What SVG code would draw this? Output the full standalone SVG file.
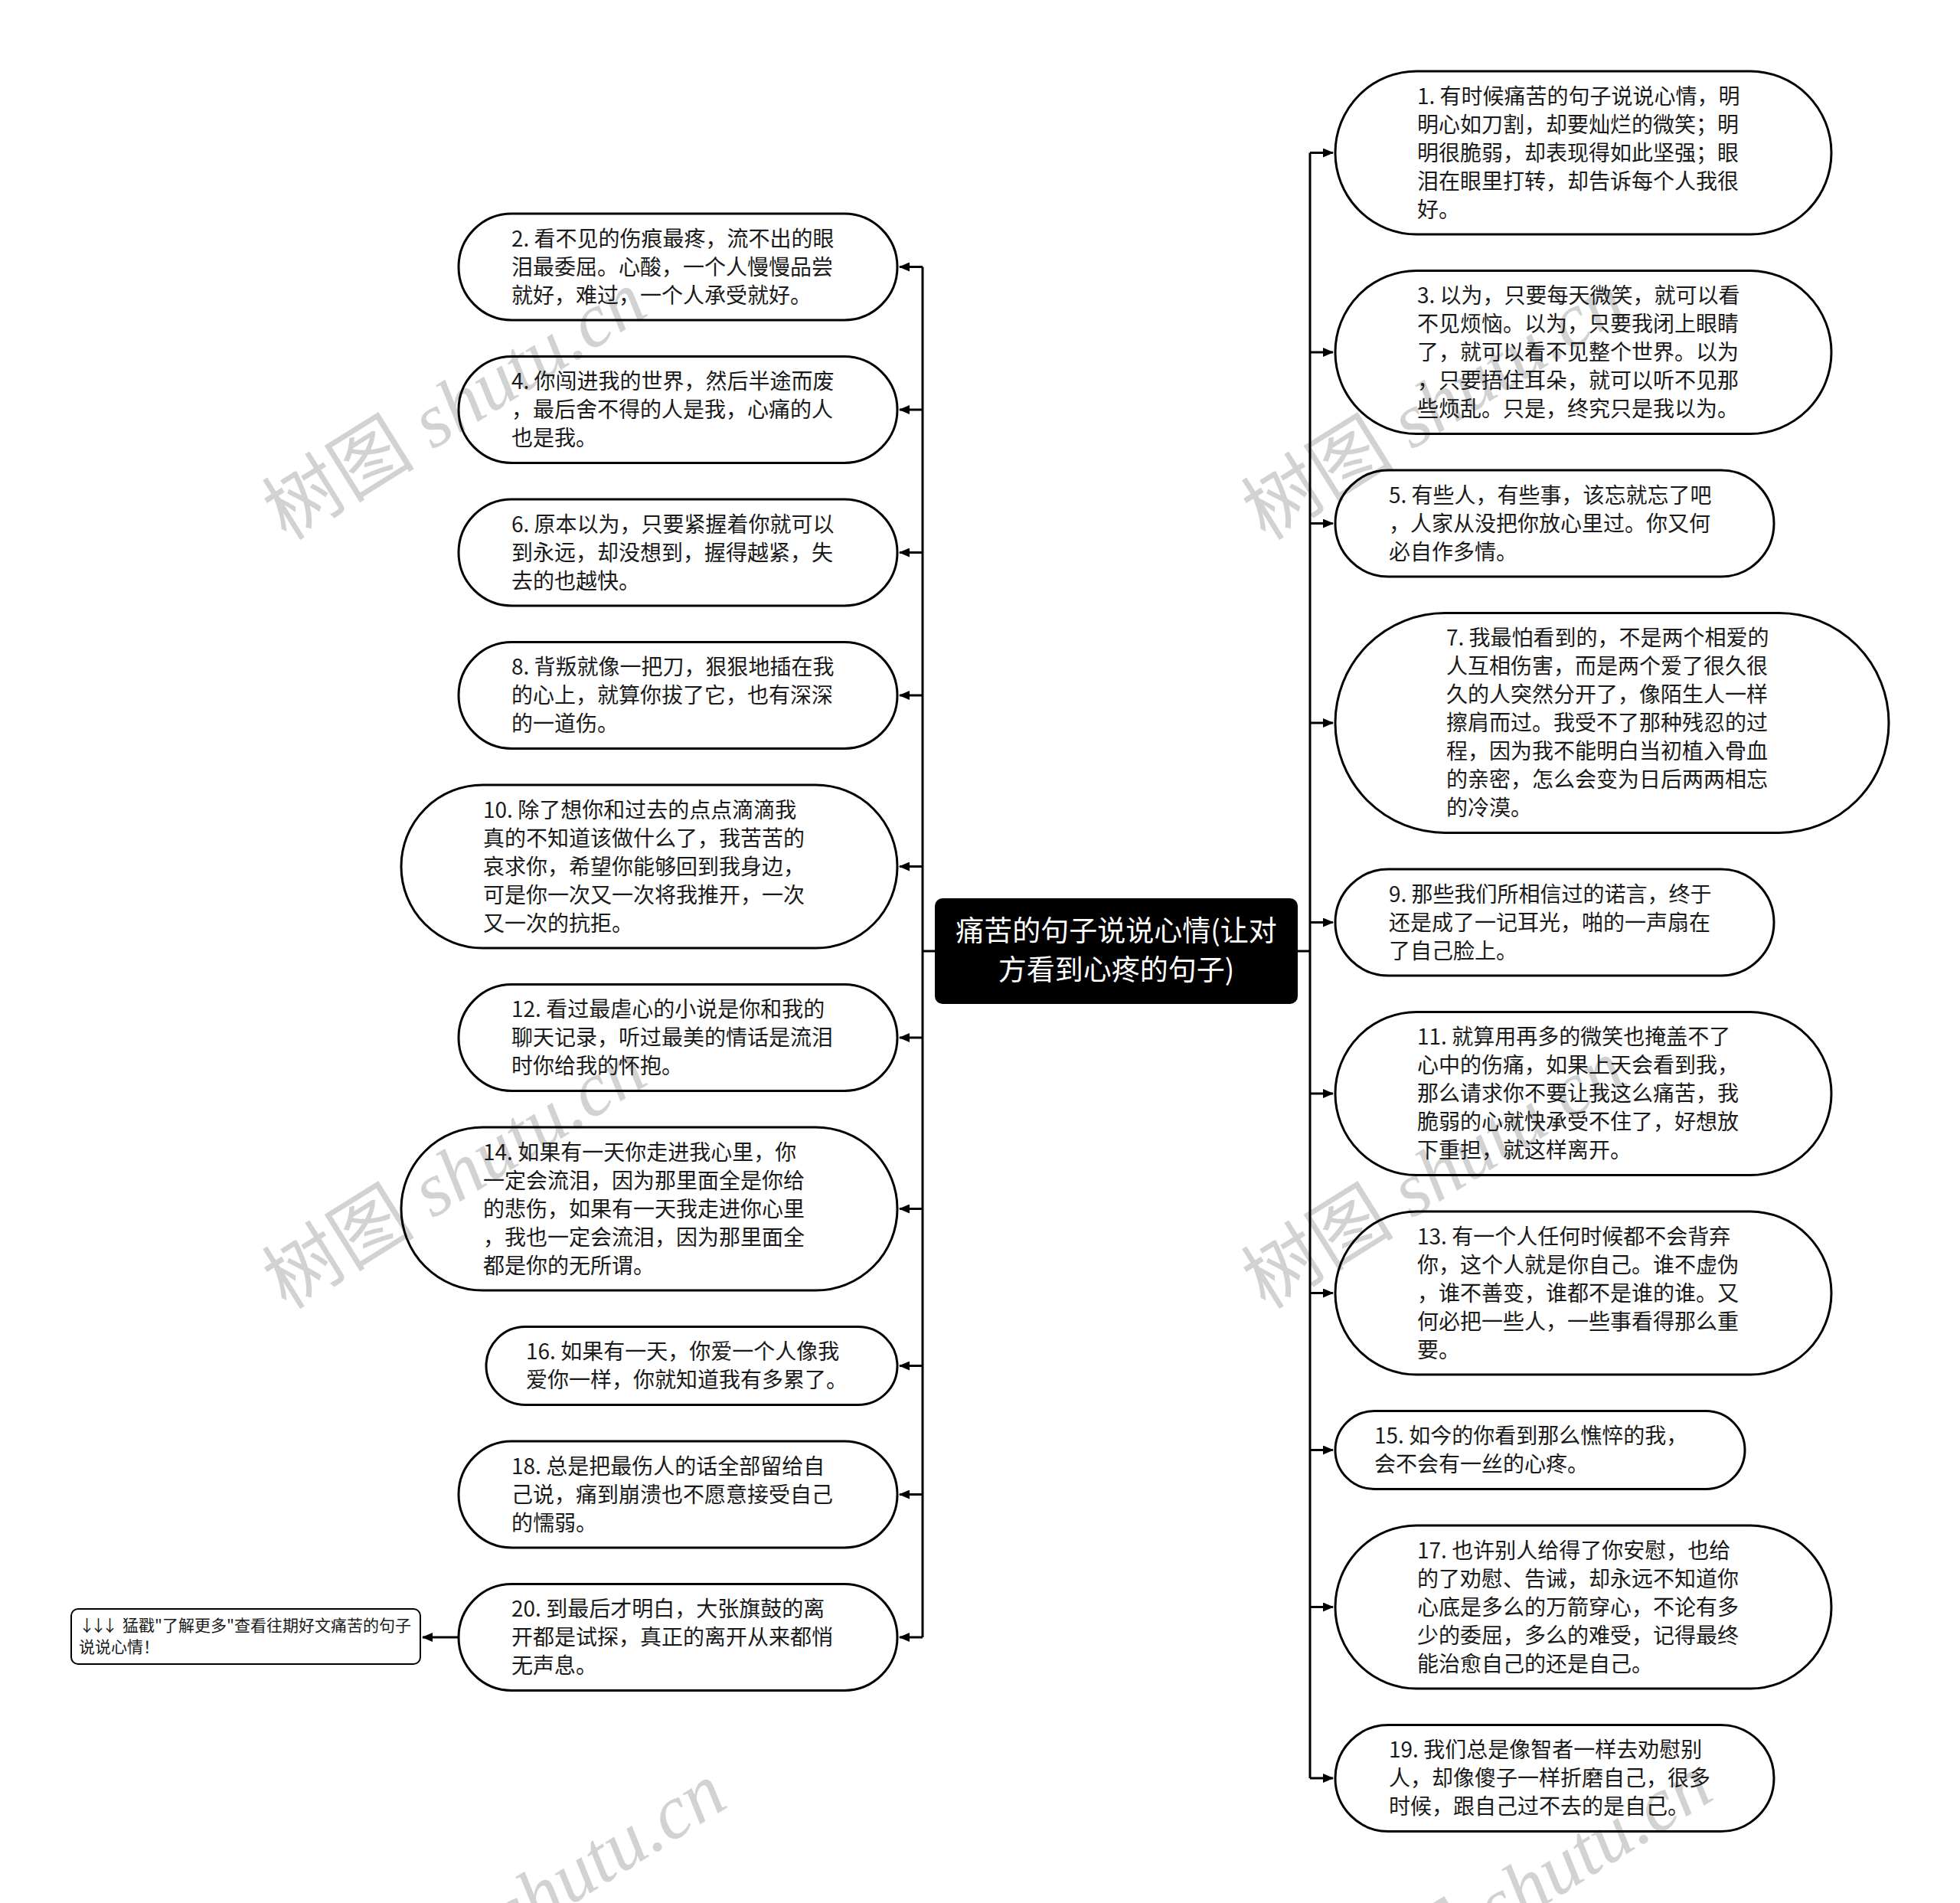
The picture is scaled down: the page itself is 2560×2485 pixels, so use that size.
<svg xmlns="http://www.w3.org/2000/svg" width="2560" height="2485" viewBox="0 0 2560 2485">
<defs>
<marker id="arr" markerUnits="userSpaceOnUse" markerWidth="14" markerHeight="12" refX="13" refY="6" orient="auto">
<path d="M0,0 L14,6 L0,12 z" fill="#000"/>
</marker>
<style>
.wm{font-family:"Liberation Serif","Noto Sans CJK SC",serif;font-size:100px;fill:#d2d2d2;}
.wm tspan{font-style:italic;}
.n{fill:none;stroke:#000;stroke-width:3;}
.t{font-family:"Noto Sans CJK SC","Noto Sans",sans-serif;font-size:28px;fill:#1a1a1a;}
.ct{font-family:"Noto Sans CJK SC","Noto Sans",sans-serif;font-size:37px;fill:#fff;text-anchor:middle;}
.st{font-family:"Noto Sans CJK SC","Noto Sans",sans-serif;font-size:21px;fill:#1a1a1a;}
.c{fill:none;stroke:#000;stroke-width:3;}
</style>
</defs>
<rect width="2560" height="2485" fill="#fff"/>
<g id="watermarks">
<text class="wm" transform="translate(374,707) rotate(-32)">树图 <tspan>shutu.cn</tspan></text>
<text class="wm" transform="translate(1653,707) rotate(-32)">树图 <tspan>shutu.cn</tspan></text>
<text class="wm" transform="translate(374,1711) rotate(-32)">树图 <tspan>shutu.cn</tspan></text>
<text class="wm" transform="translate(1653,1711) rotate(-32)">树图 <tspan>shutu.cn</tspan></text>
<text class="wm" transform="translate(478,2655) rotate(-32)">树图 <tspan>shutu.cn</tspan></text>
<text class="wm" transform="translate(1766,2645) rotate(-32)">树图 <tspan>shutu.cn</tspan></text>
</g>
<g id="connectors">
<path class="c" d="M1221 1242 H1205 M1205 348.5 V2138"/>
<path class="c" d="M1695 1242 H1711 M1711 199.5 V2322"/>
<path class="c" marker-end="url(#arr)" d="M1205 348.5 H1175"/>
<path class="c" marker-end="url(#arr)" d="M1205 535 H1175"/>
<path class="c" marker-end="url(#arr)" d="M1205 721.5 H1175"/>
<path class="c" marker-end="url(#arr)" d="M1205 908 H1175"/>
<path class="c" marker-end="url(#arr)" d="M1205 1131.5 H1175"/>
<path class="c" marker-end="url(#arr)" d="M1205 1355 H1175"/>
<path class="c" marker-end="url(#arr)" d="M1205 1578.5 H1175"/>
<path class="c" marker-end="url(#arr)" d="M1205 1783.5 H1175"/>
<path class="c" marker-end="url(#arr)" d="M1205 1951.5 H1175"/>
<path class="c" marker-end="url(#arr)" d="M1205 2138 H1175"/>
<path class="c" marker-end="url(#arr)" d="M1711 199.5 H1741"/>
<path class="c" marker-end="url(#arr)" d="M1711 460 H1741"/>
<path class="c" marker-end="url(#arr)" d="M1711 683.5 H1741"/>
<path class="c" marker-end="url(#arr)" d="M1711 944 H1741"/>
<path class="c" marker-end="url(#arr)" d="M1711 1204.5 H1741"/>
<path class="c" marker-end="url(#arr)" d="M1711 1428 H1741"/>
<path class="c" marker-end="url(#arr)" d="M1711 1688.5 H1741"/>
<path class="c" marker-end="url(#arr)" d="M1711 1893.5 H1741"/>
<path class="c" marker-end="url(#arr)" d="M1711 2098.5 H1741"/>
<path class="c" marker-end="url(#arr)" d="M1711 2322 H1741"/>
<path class="c" marker-end="url(#arr)" d="M599 2138 H552"/>
</g>
<g id="center">
<rect x="1221" y="1173" width="474" height="138" rx="10" fill="#000"/>
<text class="ct" x="1458" y="1229">痛苦的句子说说心情(让对</text>
<text class="ct" x="1458" y="1280">方看到心疼的句子)</text>
</g>
<g id="node2">
<rect class="n" x="599" y="279" width="573" height="139" rx="69.5"/>
<text class="t" x="668" y="321.5">2. 看不见的伤痕最疼，流不出的眼</text>
<text class="t" x="668" y="358.5">泪最委屈。心酸，一个人慢慢品尝</text>
<text class="t" x="668" y="395.5">就好，难过，一个人承受就好。</text>
</g>
<g id="node4">
<rect class="n" x="599" y="465.5" width="573" height="139" rx="69.5"/>
<text class="t" x="668" y="508">4. 你闯进我的世界，然后半途而废</text>
<text class="t" x="668" y="545">，最后舍不得的人是我，心痛的人</text>
<text class="t" x="668" y="582">也是我。</text>
</g>
<g id="node6">
<rect class="n" x="599" y="652" width="573" height="139" rx="69.5"/>
<text class="t" x="668" y="694.5">6. 原本以为，只要紧握着你就可以</text>
<text class="t" x="668" y="731.5">到永远，却没想到，握得越紧，失</text>
<text class="t" x="668" y="768.5">去的也越快。</text>
</g>
<g id="node8">
<rect class="n" x="599" y="838.5" width="573" height="139" rx="69.5"/>
<text class="t" x="668" y="881">8. 背叛就像一把刀，狠狠地插在我</text>
<text class="t" x="668" y="918">的心上，就算你拔了它，也有深深</text>
<text class="t" x="668" y="955">的一道伤。</text>
</g>
<g id="node10">
<rect class="n" x="524" y="1025" width="648" height="213" rx="106.5"/>
<text class="t" x="631" y="1067.5">10. 除了想你和过去的点点滴滴我</text>
<text class="t" x="631" y="1104.5">真的不知道该做什么了，我苦苦的</text>
<text class="t" x="631" y="1141.5">哀求你，希望你能够回到我身边，</text>
<text class="t" x="631" y="1178.5">可是你一次又一次将我推开，一次</text>
<text class="t" x="631" y="1215.5">又一次的抗拒。</text>
</g>
<g id="node12">
<rect class="n" x="599" y="1285.5" width="573" height="139" rx="69.5"/>
<text class="t" x="668" y="1328">12. 看过最虐心的小说是你和我的</text>
<text class="t" x="668" y="1365">聊天记录，听过最美的情话是流泪</text>
<text class="t" x="668" y="1402">时你给我的怀抱。</text>
</g>
<g id="node14">
<rect class="n" x="524" y="1472" width="648" height="213" rx="106.5"/>
<text class="t" x="631" y="1514.5">14. 如果有一天你走进我心里，你</text>
<text class="t" x="631" y="1551.5">一定会流泪，因为那里面全是你给</text>
<text class="t" x="631" y="1588.5">的悲伤，如果有一天我走进你心里</text>
<text class="t" x="631" y="1625.5">，我也一定会流泪，因为那里面全</text>
<text class="t" x="631" y="1662.5">都是你的无所谓。</text>
</g>
<g id="node16">
<rect class="n" x="635" y="1732.5" width="537" height="102" rx="51"/>
<text class="t" x="687" y="1775">16. 如果有一天，你爱一个人像我</text>
<text class="t" x="687" y="1812">爱你一样，你就知道我有多累了。</text>
</g>
<g id="node18">
<rect class="n" x="599" y="1882" width="573" height="139" rx="69.5"/>
<text class="t" x="668" y="1924.5">18. 总是把最伤人的话全部留给自</text>
<text class="t" x="668" y="1961.5">己说，痛到崩溃也不愿意接受自己</text>
<text class="t" x="668" y="1998.5">的懦弱。</text>
</g>
<g id="node20">
<rect class="n" x="599" y="2068.5" width="573" height="139" rx="69.5"/>
<text class="t" x="668" y="2111">20. 到最后才明白，大张旗鼓的离</text>
<text class="t" x="668" y="2148">开都是试探，真正的离开从来都悄</text>
<text class="t" x="668" y="2185">无声息。</text>
</g>
<g id="more">
<rect x="93" y="2101" width="456" height="72" rx="9" fill="#fff" stroke="#000" stroke-width="2"/>
<text class="st" x="103" y="2130"><tspan letter-spacing="-6">↓↓↓</tspan><tspan dx="12">猛戳"了解更多"查看往期好文痛苦的句子</tspan></text>
<text class="st" x="103" y="2158">说说心情！</text>
</g>
<g id="node1">
<rect class="n" x="1744" y="93" width="648" height="213" rx="106.5"/>
<text class="t" x="1851" y="135.5">1. 有时候痛苦的句子说说心情，明</text>
<text class="t" x="1851" y="172.5">明心如刀割，却要灿烂的微笑；明</text>
<text class="t" x="1851" y="209.5">明很脆弱，却表现得如此坚强；眼</text>
<text class="t" x="1851" y="246.5">泪在眼里打转，却告诉每个人我很</text>
<text class="t" x="1851" y="283.5">好。</text>
</g>
<g id="node3">
<rect class="n" x="1744" y="353.5" width="648" height="213" rx="106.5"/>
<text class="t" x="1851" y="396">3. 以为，只要每天微笑，就可以看</text>
<text class="t" x="1851" y="433">不见烦恼。以为，只要我闭上眼睛</text>
<text class="t" x="1851" y="470">了，就可以看不见整个世界。以为</text>
<text class="t" x="1851" y="507">，只要捂住耳朵，就可以听不见那</text>
<text class="t" x="1851" y="544">些烦乱。只是，终究只是我以为。</text>
</g>
<g id="node5">
<rect class="n" x="1744" y="614" width="573" height="139" rx="69.5"/>
<text class="t" x="1814" y="656.5">5. 有些人，有些事，该忘就忘了吧</text>
<text class="t" x="1814" y="693.5">，人家从没把你放心里过。你又何</text>
<text class="t" x="1814" y="730.5">必自作多情。</text>
</g>
<g id="node7">
<rect class="n" x="1744" y="800.5" width="723" height="287" rx="143.5"/>
<text class="t" x="1889" y="843">7. 我最怕看到的，不是两个相爱的</text>
<text class="t" x="1889" y="880">人互相伤害，而是两个爱了很久很</text>
<text class="t" x="1889" y="917">久的人突然分开了，像陌生人一样</text>
<text class="t" x="1889" y="954">擦肩而过。我受不了那种残忍的过</text>
<text class="t" x="1889" y="991">程，因为我不能明白当初植入骨血</text>
<text class="t" x="1889" y="1028">的亲密，怎么会变为日后两两相忘</text>
<text class="t" x="1889" y="1065">的冷漠。</text>
</g>
<g id="node9">
<rect class="n" x="1744" y="1135" width="573" height="139" rx="69.5"/>
<text class="t" x="1814" y="1177.5">9. 那些我们所相信过的诺言，终于</text>
<text class="t" x="1814" y="1214.5">还是成了一记耳光，啪的一声扇在</text>
<text class="t" x="1814" y="1251.5">了自己脸上。</text>
</g>
<g id="node11">
<rect class="n" x="1744" y="1321.5" width="648" height="213" rx="106.5"/>
<text class="t" x="1851" y="1364">11. 就算用再多的微笑也掩盖不了</text>
<text class="t" x="1851" y="1401">心中的伤痛，如果上天会看到我，</text>
<text class="t" x="1851" y="1438">那么请求你不要让我这么痛苦，我</text>
<text class="t" x="1851" y="1475">脆弱的心就快承受不住了，好想放</text>
<text class="t" x="1851" y="1512">下重担，就这样离开。</text>
</g>
<g id="node13">
<rect class="n" x="1744" y="1582" width="648" height="213" rx="106.5"/>
<text class="t" x="1851" y="1624.5">13. 有一个人任何时候都不会背弃</text>
<text class="t" x="1851" y="1661.5">你，这个人就是你自己。谁不虚伪</text>
<text class="t" x="1851" y="1698.5">，谁不善变，谁都不是谁的谁。又</text>
<text class="t" x="1851" y="1735.5">何必把一些人，一些事看得那么重</text>
<text class="t" x="1851" y="1772.5">要。</text>
</g>
<g id="node15">
<rect class="n" x="1744" y="1842.5" width="535" height="102" rx="51"/>
<text class="t" x="1795" y="1885">15. 如今的你看到那么憔悴的我，</text>
<text class="t" x="1795" y="1922">会不会有一丝的心疼。</text>
</g>
<g id="node17">
<rect class="n" x="1744" y="1992" width="648" height="213" rx="106.5"/>
<text class="t" x="1851" y="2034.5">17. 也许别人给得了你安慰，也给</text>
<text class="t" x="1851" y="2071.5">的了劝慰、告诫，却永远不知道你</text>
<text class="t" x="1851" y="2108.5">心底是多么的万箭穿心，不论有多</text>
<text class="t" x="1851" y="2145.5">少的委屈，多么的难受，记得最终</text>
<text class="t" x="1851" y="2182.5">能治愈自己的还是自己。</text>
</g>
<g id="node19">
<rect class="n" x="1744" y="2252.5" width="573" height="139" rx="69.5"/>
<text class="t" x="1814" y="2295">19. 我们总是像智者一样去劝慰别</text>
<text class="t" x="1814" y="2332">人，却像傻子一样折磨自己，很多</text>
<text class="t" x="1814" y="2369">时候，跟自己过不去的是自己。</text>
</g>
</svg>
